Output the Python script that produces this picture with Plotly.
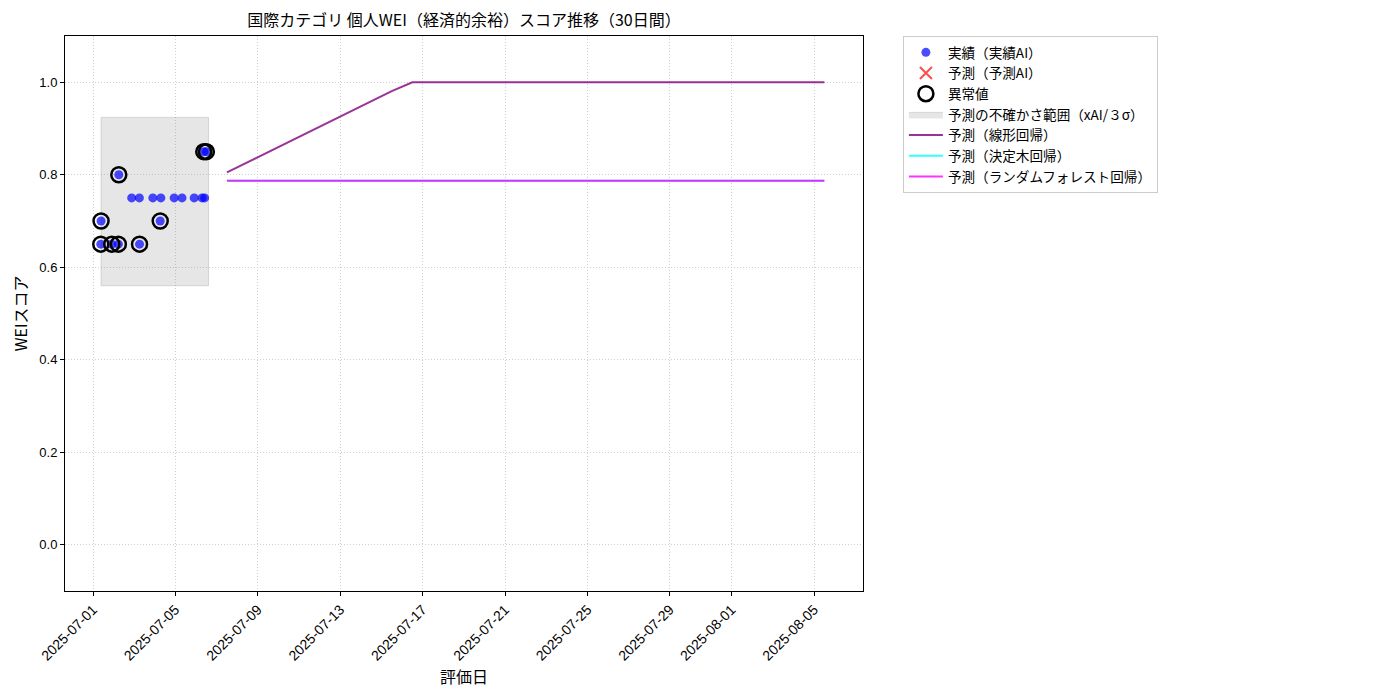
import pandas as pd
import plotly.graph_objects as go

# 実績データ（評価日時・スコア・異常値フラグ）
actual_dates = [
    "2025-07-01 09:00", "2025-07-01 09:20", "2025-07-01 21:50", "2025-07-02 05:30",
    "2025-07-02 06:00", "2025-07-02 21:00", "2025-07-03 06:00", "2025-07-03 06:10",
    "2025-07-03 21:40", "2025-07-04 06:15", "2025-07-04 07:00", "2025-07-04 22:30",
    "2025-07-05 07:40", "2025-07-05 21:50", "2025-07-06 07:00", "2025-07-06 09:00",
    "2025-07-06 10:00", "2025-07-06 12:00",
]
actual_scores = [
    0.65, 0.70, 0.65, 0.65,
    0.80, 0.75, 0.75, 0.65,
    0.75, 0.70, 0.75, 0.75,
    0.75, 0.75, 0.75, 0.85,
    0.75, 0.85,
]
is_anomaly = [
    True, True, True, True,
    True, False, False, True,
    False, True, False, False,
    False, False, False, True,
    False, True,
]

# 予測の不確かさ範囲
band_start = "2025-07-01 09:20"
band_end = "2025-07-06 14:30"
band_low = 0.56
band_high = 0.924

# 予測（30日間）
forecast_start = "2025-07-07 12:00"
forecast_dates = pd.date_range(forecast_start, periods=30, freq="D")
pred_linear = [
    0.805, 0.827, 0.849, 0.871, 0.893, 0.915, 0.937, 0.959, 0.981, 1.0,
    1.0, 1.0, 1.0, 1.0, 1.0, 1.0, 1.0, 1.0, 1.0, 1.0,
    1.0, 1.0, 1.0, 1.0, 1.0, 1.0, 1.0, 1.0, 1.0, 1.0,
]
pred_tree = [
    0.787, 0.787, 0.787, 0.787, 0.787, 0.787, 0.787, 0.787, 0.787, 0.787,
    0.787, 0.787, 0.787, 0.787, 0.787, 0.787, 0.787, 0.787, 0.787, 0.787,
    0.787, 0.787, 0.787, 0.787, 0.787, 0.787, 0.787, 0.787, 0.787, 0.787,
]
pred_forest = [
    0.787, 0.787, 0.787, 0.787, 0.787, 0.787, 0.787, 0.787, 0.787, 0.787,
    0.787, 0.787, 0.787, 0.787, 0.787, 0.787, 0.787, 0.787, 0.787, 0.787,
    0.787, 0.787, 0.787, 0.787, 0.787, 0.787, 0.787, 0.787, 0.787, 0.787,
]

tick_dates = [
    "2025-07-01", "2025-07-05", "2025-07-09", "2025-07-13", "2025-07-17",
    "2025-07-21", "2025-07-25", "2025-07-29", "2025-08-01", "2025-08-05",
]

FONT = "Noto Sans CJK JP"
TICK_FONT = "Liberation Sans"

anom_dates = [d for d, a in zip(actual_dates, is_anomaly) if a]
anom_scores = [s for s, a in zip(actual_scores, is_anomaly) if a]

fig = go.Figure()

fig.add_trace(go.Scatter(
    x=[band_start, band_end, band_end, band_start, band_start],
    y=[band_low, band_low, band_high, band_high, band_low],
    fill="toself", fillcolor="rgba(128,128,128,0.2)",
    line=dict(color="rgba(128,128,128,0.25)", width=1),
    mode="lines", name="予測の不確かさ範囲（xAI/３σ）", legendrank=4,
    hoverinfo="skip",
))
fig.add_trace(go.Scatter(
    x=actual_dates, y=actual_scores, mode="markers",
    marker=dict(color="rgba(0,0,255,0.7)", size=9),
    name="実績（実績AI）", legendrank=1,
))
fig.add_trace(go.Scatter(
    x=[None], y=[None], mode="markers",
    marker=dict(symbol="x-thin", size=12, color="rgba(255,0,0,0.7)",
                line=dict(color="rgba(255,0,0,0.7)", width=2)),
    name="予測（予測AI）", legendrank=2,
))
fig.add_trace(go.Scatter(
    x=anom_dates, y=anom_scores, mode="markers",
    marker=dict(symbol="circle-open", size=15, color="black",
                line=dict(color="black", width=2.5)),
    name="異常値", legendrank=3,
))
fig.add_trace(go.Scatter(
    x=forecast_dates, y=pred_linear, mode="lines",
    line=dict(color="rgba(128,0,128,0.8)", width=2),
    name="予測（線形回帰）", legendrank=5,
))
fig.add_trace(go.Scatter(
    x=forecast_dates, y=pred_tree, mode="lines",
    line=dict(color="rgba(0,255,255,0.8)", width=2),
    name="予測（決定木回帰）", legendrank=6,
))
fig.add_trace(go.Scatter(
    x=forecast_dates, y=pred_forest, mode="lines",
    line=dict(color="rgba(255,0,255,0.8)", width=2),
    name="予測（ランダムフォレスト回帰）", legendrank=7,
))

# ページ余白(8px)を差し引いた位置で配置
fig.update_layout(
    width=1400, height=700,
    margin=dict(l=57, r=545, t=28, b=117, autoexpand=False),
    paper_bgcolor="white", plot_bgcolor="white",
    font=dict(family=FONT, size=13, color="black"),
    title=dict(text="国際カテゴリ 個人WEI（経済的余裕）スコア推移（30日間）",
               x=456 / 1400, xanchor="center", y=1 - 12 / 700, yanchor="middle",
               font=dict(size=16)),
    legend=dict(x=1.05, y=1.0, xanchor="left", yanchor="top",
                bordercolor="#cccccc", borderwidth=1, bgcolor="white",
                font=dict(size=13.6), traceorder="normal", tracegroupgap=0,
                itemwidth=34),
    showlegend=True,
)
fig.update_xaxes(
    range=["2025-06-29 15:20", "2025-08-07 09:00"],
    tickvals=tick_dates, ticktext=tick_dates, tickangle=-45,
    ticks="outside", ticklen=4, tickcolor="black",
    tickfont=dict(family=TICK_FONT, size=14),
    showline=True, linecolor="black", linewidth=1, mirror=True,
    showgrid=True, gridcolor="#d0d0d0", griddash="1px,2px", gridwidth=1,
    zeroline=False, automargin=False,
    title=dict(text="評価日", standoff=6),
)
fig.update_yaxes(
    range=[-0.1, 1.1], tickvals=[0.0, 0.2, 0.4, 0.6, 0.8, 1.0], tickformat=".1f",
    ticks="outside", ticklen=4, tickcolor="black",
    tickfont=dict(family=TICK_FONT, size=13),
    showline=True, linecolor="black", linewidth=1, mirror=True,
    showgrid=True, gridcolor="#d0d0d0", griddash="1px,2px", gridwidth=1,
    zeroline=False, automargin=False,
    title=dict(text="WEIスコア", standoff=8),
)

fig.write_html("out.html")
